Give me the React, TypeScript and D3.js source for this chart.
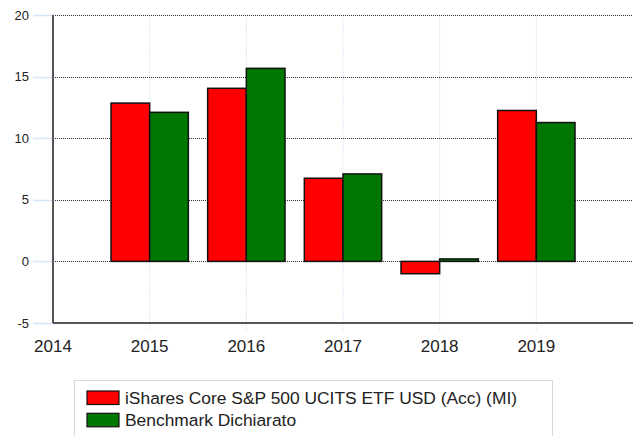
import React from "react";
import * as d3 from "d3";

const years = [2015, 2016, 2017, 2018, 2019];
const fundValues = [12.85, 14.05, 6.75, -1.0, 12.25];
const benchValues = [12.1, 15.67, 7.1, 0.2, 11.27];
const seriesNames = ["iShares Core S&P 500 UCITS ETF USD (Acc) (MI)", "Benchmark Dichiarato"];
const seriesColors = ["#ff0000", "#007700"];
const yTicks = [-5, 0, 5, 10, 15, 20];
const xTicks = [2014, 2015, 2016, 2017, 2018, 2019];

const W = 639, H = 436;
const left = 53, right = 633, top = 15, bottom = 323;
const FONT = "'Liberation Sans', Arial, sans-serif";

export default function App() {
  const x = d3.scaleLinear().domain([2014, 2020]).range([left, right]);
  const y = d3.scaleLinear().domain([-5, 20]).range([bottom, top]);
  const step = x(2015) - x(2014);
  const bw = step * 0.4;
  const series = [fundValues, benchValues];

  return (
    <svg width={W} height={H} style={{ position: "absolute", left: 0, top: 0, background: "#fff" }}>
      {/* vertical grid */}
      {years.map((yr) => (
        <line key={"vg" + yr} x1={x(yr)} x2={x(yr)} y1={top} y2={bottom + 8}
          stroke="#dce9f8" strokeWidth={1} strokeDasharray="2,1" />
      ))}
      {/* horizontal grid */}
      {yTicks.filter((t) => t > -5).map((t) => (
        <line key={"hg" + t} x1={left} x2={right} y1={Math.round(y(t)) + 0.5} y2={Math.round(y(t)) + 0.5}
          stroke="#333" strokeWidth={1} strokeDasharray="1,1" />
      ))}
      {/* y tick marks */}
      {yTicks.map((t) => (
        <line key={"yt" + t} x1={33} x2={left} y1={Math.round(y(t)) + 0.5} y2={Math.round(y(t)) + 0.5}
          stroke="#d6e6f8" strokeWidth={1.5} />
      ))}
      {/* bars */}
      {series.map((vals, si) =>
        years.map((yr, i) => {
          const v = vals[i];
          const x0 = x(yr) - bw + si * bw;
          const y0 = y(Math.max(0, v));
          const h = Math.abs(y(v) - y(0));
          return (
            <rect key={"b" + si + "-" + yr} x={x0} y={y0} width={bw} height={h}
              fill={seriesColors[si]} stroke="#111" strokeWidth={1.5} />
          );
        })
      )}
      {/* axes */}
      <line x1={left} x2={left} y1={top} y2={bottom} stroke="#555" strokeWidth={2} />
      <line x1={left} x2={right} y1={bottom} y2={bottom} stroke="#555" strokeWidth={2} />
      {/* y labels */}
      {yTicks.map((t) => (
        <text key={"yl" + t} x={29} y={y(t) + 4.5} textAnchor="end" fontFamily={FONT} fontSize={13} fill="#222">
          {t}
        </text>
      ))}
      {/* x labels */}
      {xTicks.map((t) => (
        <text key={"xl" + t} x={x(t)} y={352} textAnchor="middle" fontFamily={FONT} fontSize={17} fill="#222">
          {t}
        </text>
      ))}
      {/* legend */}
      <rect x={74.5} y={380.5} width={478} height={70} fill="#fff" stroke="#d8d8d8" strokeWidth={1} />
      {seriesNames.map((name, i) => (
        <g key={"lg" + i}>
          <rect x={87} y={391 + i * 22.3} width={32} height={13.5} fill={seriesColors[i]} stroke="#111" strokeWidth={1.2} />
          <text x={125} y={403.5 + i * 22.3} fontFamily={FONT} fontSize={17.4} fill="#222">{name}</text>
        </g>
      ))}
    </svg>
  );
}
